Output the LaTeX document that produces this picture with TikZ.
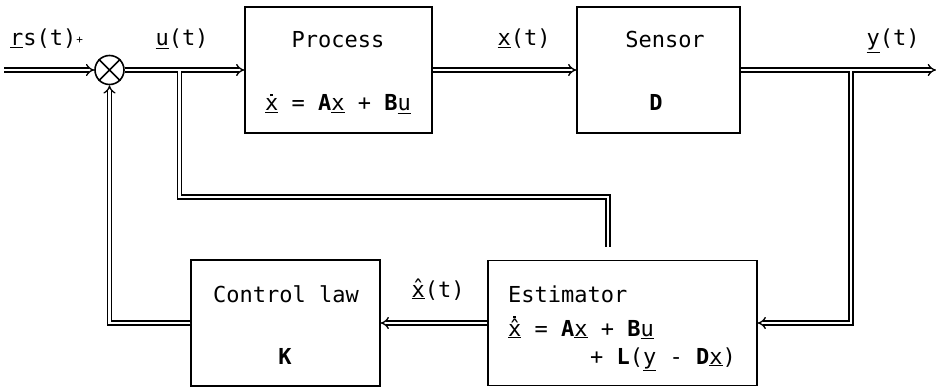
\documentclass[tikz,border=0pt]{standalone}
\usepackage{fontspec}
\setmainfont{DejaVu Sans Mono}
\usetikzlibrary{arrows.meta}
\newcommand\dotmark{\smash{\rule[0.66em]{0.13em}{0.13em}}}
\newcommand\ovrdot[1]{\ooalign{#1\cr\hidewidth\dotmark\hidewidth\cr}}
\newcommand\ovrhat[1]{\ooalign{#1\cr\hidewidth\smash{\raisebox{0.02em}{ˆ}}\hidewidth\cr}}
\newcommand\ovrhatdot[1]{\ooalign{#1\cr\hidewidth\smash{\raisebox{0.0em}{ˆ}}\hidewidth\cr\hidewidth\smash{\rule[0.8em]{0.13em}{0.13em}}\hidewidth\cr}}
\begin{document}
\begin{tikzpicture}[x=1pt,y=-1pt,
  dbl/.style={double, double distance=2.8pt, line width=1.3pt},
  dblarrow/.style={dbl, -{Implies}},
  box/.style={draw, line width=1.3pt, inner sep=0pt},
  txt/.style={font=\fontsize{22}{26}\selectfont, inner sep=0pt},
  sumnode/.style={draw, circle, line width=1.6pt, minimum size=29pt, inner sep=0pt}]
\useasboundingbox (0,0) rectangle (936,390);

% blocks
\node[sumnode] (sum) at (109.5,70) {};
\draw[line width=1.6pt] (sum.north east) -- (sum.south west) (sum.north west) -- (sum.south east);
\node[box, minimum width=187pt, minimum height=126pt] (proc) at (338.5,70) {};
\node[box, minimum width=163pt, minimum height=126pt] (sens) at (658.5,70) {};
\node[box, minimum width=269pt, minimum height=125pt] (est) at (622.5,323) {};
\node[box, minimum width=189pt, minimum height=126pt] (ctrl) at (285.5,323) {};

% texts
\node[txt, anchor=base] (proct) at (338,48) {Process};
\node[txt, anchor=base] (proce) at (338,111) {\underline{\ovrdot{x}} = \textbf{A}\underline{x} + \textbf{B}\underline{u}};
\node[txt, anchor=base] (senst) at (665,48) {Sensor};
\node[txt, anchor=base] (sensd) at (656,111) {\textbf{D}};
\node[txt, anchor=base] (ctrlt) at (286,302) {Control law};
\node[txt, anchor=base] (ctrlk) at (285,364) {\textbf{K}};
\node[txt, anchor=base west] (estt) at (508,302) {Estimator};
\node[txt, anchor=base west] (este) at (508,336) {\underline{\ovrhatdot{x}} = \textbf{A}\underline{x} + \textbf{B}\underline{u}};
\node[txt, anchor=base west] (estl) at (590,364) {+ \textbf{L}(\underline{y} - \textbf{D}\underline{x})};

% signal labels
\node[txt, anchor=base west] (rlab) at (10,46) {\underline{r}s(t)\raisebox{0.1em}{\fontsize{11}{11}\selectfont+}};
\node[txt, anchor=base] (ulab) at (182,46) {\underline{u}(t)};
\node[txt, anchor=base] (xlab) at (524,46) {\underline{x}(t)};
\node[txt, anchor=base] (ylab) at (893,46) {\underline{y}(t)};
\node[txt, anchor=base] (xhlab) at (438,297) {\underline{\ovrhat{x}}(t)};

% coordinates
\coordinate (rin) at (4,70);
\coordinate (yout) at (936,70);
\coordinate (uT) at (179.5,71.4);
\coordinate (ubend) at (179.5,197);
\coordinate (uend) at (608,247);
\coordinate (yT) at (851,71.4);

% connectors
\draw[dblarrow] (rin) -- (sum.west);
\draw[dblarrow] (sum.east) -- (proc.west);
\draw[dblarrow] (proc.east) -- (sens.west);
\draw[dblarrow] (sens.east) -- (yout);
\draw[dbl] (uT) -- (ubend) -| (uend);
\draw[dblarrow] (yT) |- (est.east);
\draw[dblarrow] (est.west) -- (ctrl.east);
\draw[dblarrow] (ctrl.west) -| (sum.south);
\end{tikzpicture}
\end{document}
